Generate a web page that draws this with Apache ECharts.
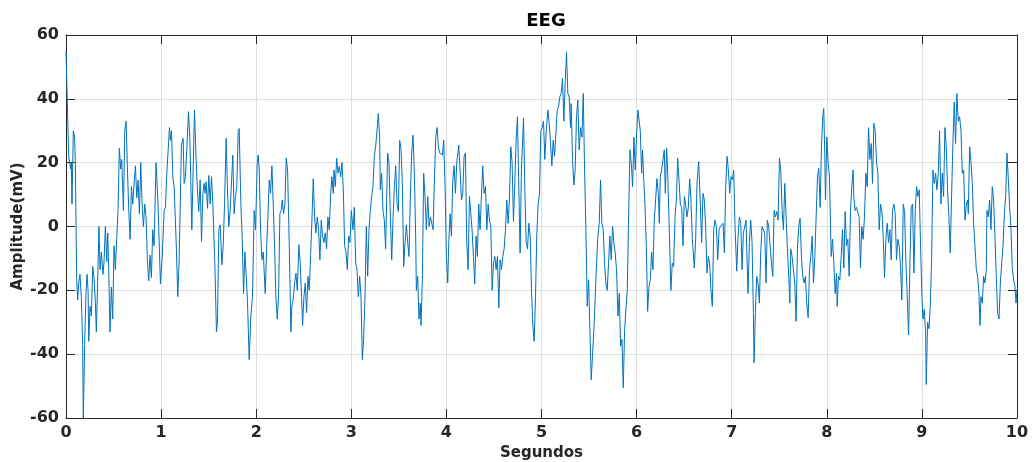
<!DOCTYPE html>
<html><head><meta charset="utf-8">
<script src="https://cdn.jsdelivr.net/npm/echarts@6/dist/echarts.min.js"></script>
<style>html,body{margin:0;padding:0;background:#fff}#c{width:1032px;height:462px}</style>
</head><body><div id="c"></div>
<script>
// EEG samples: [seconds, amplitude mV]
const sec0 = [[0.000,55],[0.028,22],[0.049,18],[0.056,20],[0.063,7],[0.077,30],[0.091,28],[0.098,20],[0.112,-16],[0.123,-23],[0.133,-18],[0.147,-15],[0.161,-22],[0.175,-37],[0.182,-60],[0.196,-37],[0.211,-20],[0.221,-15],[0.232,-20],[0.239,-36],[0.253,-25],[0.267,-28],[0.281,-12.5],[0.295,-16],[0.309,-24],[0.319,-33],[0.333,-17],[0.347,0],[0.358,-13.5],[0.372,-8],[0.389,-15],[0.400,-11],[0.414,0],[0.428,-11],[0.439,-2],[0.449,-13.5],[0.463,-33],[0.477,-19],[0.491,-29],[0.505,-6],[0.519,-13.5],[0.533,-4],[0.547,5],[0.561,24.5],[0.575,18],[0.586,21],[0.604,5],[0.618,30],[0.632,33],[0.646,18],[0.660,5],[0.674,-4],[0.688,12.5],[0.702,7],[0.716,13.5],[0.730,19],[0.744,9],[0.758,14.5],[0.772,4],[0.786,20],[0.800,7],[0.814,0],[0.828,7],[0.842,3],[0.856,-11],[0.870,-17],[0.884,-9],[0.898,-16],[0.912,-1],[0.926,-6],[0.947,20],[0.968,7],[0.993,-18]];
const sec1 = [[1.011,-10],[1.032,5],[1.046,6],[1.060,16.7],[1.088,31],[1.098,27],[1.109,30],[1.123,15.6],[1.137,12.5],[1.161,-7],[1.175,-22],[1.189,-11.5],[1.214,25.5],[1.232,27.6],[1.242,13.5],[1.256,15.6],[1.270,24],[1.288,36],[1.302,28],[1.323,-1],[1.351,36.5],[1.368,21],[1.382,11.5],[1.396,4.7],[1.411,14.6],[1.425,-4.7],[1.439,10.4],[1.453,13.5],[1.463,10.4],[1.474,14],[1.488,5.7],[1.502,16],[1.516,7],[1.530,15.6],[1.544,7],[1.565,-11.5],[1.582,-33],[1.593,-30],[1.607,-1],[1.621,0.5],[1.639,-12],[1.653,-6],[1.667,7],[1.684,27.6],[1.698,11.5],[1.712,0],[1.726,5],[1.737,12],[1.754,22.4],[1.768,4],[1.782,9.4],[1.796,12.5],[1.811,30],[1.821,30.7],[1.839,7],[1.853,-4],[1.867,-21],[1.881,-8],[1.895,-15.6],[1.909,-24],[1.926,-41.7],[1.944,-28],[1.961,-22],[1.979,5],[1.993,-1]];
const sec2 = [[2.011,20],[2.021,22.4],[2.032,17.7],[2.046,-1],[2.060,-10.4],[2.074,-8],[2.095,-21],[2.109,-7],[2.123,3],[2.137,14.6],[2.151,10.4],[2.165,19],[2.179,7],[2.193,-6],[2.207,-22],[2.221,-29],[2.235,-22],[2.249,4],[2.263,5],[2.274,8.3],[2.288,4],[2.302,7],[2.316,21.4],[2.330,17.7],[2.347,-5],[2.365,-33],[2.375,-25],[2.389,-23],[2.404,-17.7],[2.418,-14.6],[2.432,-20],[2.449,-5.7],[2.463,-11.5],[2.477,-22],[2.488,-31],[2.502,-22],[2.516,-17.7],[2.530,-27],[2.544,-15.6],[2.558,-20],[2.572,-9],[2.586,2],[2.600,15],[2.614,3],[2.628,-2],[2.642,3],[2.656,-1],[2.670,-10.4],[2.684,2],[2.698,-3],[2.712,-5],[2.726,-2],[2.740,-7],[2.754,3],[2.768,-1],[2.782,9.4],[2.796,15.6],[2.811,10.4],[2.818,17.7],[2.832,12.5],[2.846,21.4],[2.860,16.7],[2.874,18.8],[2.888,15.6],[2.902,20],[2.916,11.5],[2.930,-6],[2.944,-8],[2.958,-13.5],[2.972,-3],[2.986,-5],[3.000,5]];
const sec3 = [[3.018,-1],[3.032,6],[3.046,-11.5],[3.060,-13.5],[3.074,-22],[3.088,-15.6],[3.102,-22],[3.116,-41.7],[3.130,-35],[3.144,-22],[3.158,0],[3.172,-15.6],[3.186,-1],[3.200,5],[3.214,9.4],[3.228,12.5],[3.242,22],[3.256,25],[3.270,30],[3.284,35.4],[3.298,28],[3.305,11.5],[3.319,16.7],[3.333,5],[3.347,2],[3.361,-7],[3.382,23],[3.396,20],[3.411,3],[3.425,-10.4],[3.439,3],[3.453,12.5],[3.467,19],[3.481,7],[3.495,4.7],[3.509,27],[3.523,24],[3.537,13.5],[3.551,-12.5],[3.565,-5],[3.579,0.5],[3.593,-5],[3.607,-9.4],[3.621,9.4],[3.635,23],[3.649,28.6],[3.663,16.7],[3.677,-3],[3.684,-20],[3.698,-15.6],[3.712,-29],[3.726,-24],[3.733,-31],[3.747,-16.7],[3.761,16.7],[3.775,9.4],[3.789,-1],[3.804,9.4],[3.818,0],[3.832,3],[3.860,-1],[3.874,14.6],[3.888,28],[3.902,31],[3.916,25],[3.930,23],[3.958,22.4],[3.972,27],[3.986,12.5],[4.000,-9.4]];
const sec4 = [[4.014,-17.7],[4.025,-5],[4.039,4],[4.053,-3],[4.067,14.6],[4.081,19],[4.095,10.4],[4.109,20],[4.130,25.5],[4.144,17.7],[4.158,8.3],[4.172,10.4],[4.186,22],[4.200,23],[4.214,-5],[4.228,-13.5],[4.242,9.4],[4.256,10],[4.270,-1],[4.284,-9.4],[4.298,-18],[4.312,-3],[4.326,-9.4],[4.340,7],[4.354,-1],[4.368,9.4],[4.382,19],[4.396,10.4],[4.411,12.5],[4.425,-1],[4.439,7],[4.453,2],[4.467,0],[4.481,-20],[4.495,-11.5],[4.509,-9.4],[4.523,-13.5],[4.537,-9.4],[4.551,-25.5],[4.565,-10.4],[4.579,-13.5],[4.593,-9.4],[4.607,-7],[4.621,-1],[4.635,8.3],[4.649,1],[4.663,8.3],[4.677,25],[4.691,20],[4.705,1.6],[4.719,13.5],[4.733,27],[4.747,34.4],[4.761,12.5],[4.775,-8.3],[4.789,17.7],[4.811,34],[4.825,11.5],[4.839,-5],[4.853,-7],[4.867,1],[4.881,-3],[4.895,-20],[4.909,-31],[4.923,-36],[4.937,-22],[4.951,-2],[4.965,7],[4.979,10.4],[4.993,30]];
const sec5 = [[5.007,31],[5.021,33],[5.035,21],[5.050,30],[5.067,36.5],[5.081,32.3],[5.095,26],[5.109,19],[5.123,27],[5.137,22],[5.151,29],[5.165,36.5],[5.179,37.5],[5.193,40.6],[5.207,41.7],[5.221,46.4],[5.235,33],[5.249,44.8],[5.263,54.7],[5.277,41.7],[5.291,40.6],[5.305,31],[5.312,38.5],[5.326,21],[5.340,13],[5.354,17.7],[5.368,34.4],[5.382,39.6],[5.396,24],[5.411,31],[5.425,28],[5.439,41.7],[5.453,17.7],[5.467,-1],[5.481,-25],[5.495,-16.7],[5.509,-32.3],[5.523,-48],[5.537,-48],[5.551,-32.3],[5.565,-22],[5.579,-11.5],[5.593,-3],[5.607,1],[5.621,14.6],[5.635,1],[5.649,-1],[5.663,-11.5],[5.677,-17.7],[5.691,-20],[5.705,-11.5],[5.719,-3],[5.733,-10.4],[5.747,0],[5.761,-5],[5.775,-8.3],[5.789,-13.5],[5.804,-28],[5.818,-21],[5.832,-37.5],[5.846,-35.4],[5.860,-50.5],[5.874,-32.3],[5.888,-26],[5.902,-20],[5.916,3],[5.930,24],[5.944,20],[5.958,12.5],[5.972,28],[5.986,17.7],[6.000,29]];
const sec6 = [[6.014,36.5],[6.025,37],[6.039,30],[6.053,16.7],[6.063,24],[6.074,15.6],[6.088,7],[6.102,-6],[6.116,-26.6],[6.130,-19],[6.144,-16.7],[6.158,-8],[6.172,-13.5],[6.186,2],[6.200,8.3],[6.214,15],[6.228,10.4],[6.239,1],[6.249,15.6],[6.263,17.7],[6.277,20.8],[6.291,24],[6.302,10.4],[6.316,24.5],[6.326,17.7],[6.340,3],[6.361,-20],[6.375,-11.5],[6.389,-12.5],[6.404,3],[6.418,8.3],[6.432,21.4],[6.446,14.6],[6.460,7],[6.474,6],[6.488,-6],[6.502,9.4],[6.516,6.8],[6.530,3],[6.544,6],[6.558,15],[6.572,8.3],[6.586,-4],[6.607,-13],[6.621,-4],[6.635,13.5],[6.653,20.3],[6.670,7],[6.684,-5],[6.698,10.4],[6.712,8.3],[6.726,0],[6.740,-14.6],[6.754,-9.4],[6.768,-11.5],[6.782,-20],[6.796,-25],[6.811,-1],[6.825,2],[6.839,0],[6.853,-10.4],[6.867,-1],[6.881,0],[6.909,1],[6.923,-8.3],[6.937,12.5],[6.951,22],[6.965,17.7],[6.979,10.4],[6.993,15.6],[7.007,14.6],[7.021,17.7],[7.035,0]];
const sec7 = [[7.053,-14],[7.067,-3],[7.081,3],[7.095,1],[7.109,-13.5],[7.123,-2],[7.151,2],[7.158,-7],[7.172,-21],[7.186,-5],[7.200,2],[7.214,-5],[7.228,-27],[7.235,-42.7],[7.249,-27],[7.263,-15.6],[7.277,-17.7],[7.291,-24],[7.305,-8.3],[7.319,0],[7.347,-2],[7.361,-17.7],[7.375,2],[7.389,0],[7.404,0.5],[7.418,-11.5],[7.432,-15.6],[7.446,5],[7.460,3],[7.474,4.7],[7.488,2],[7.502,21.4],[7.516,17.7],[7.530,5],[7.544,-1],[7.558,13.5],[7.572,3],[7.586,-7],[7.600,-15.6],[7.611,-24],[7.621,-7],[7.635,-9.4],[7.649,-13.5],[7.663,-17.7],[7.677,-29.7],[7.691,-7],[7.705,0],[7.719,2.6],[7.733,-9.4],[7.747,-15.6],[7.761,-17.7],[7.775,-15.6],[7.789,-24],[7.804,-28.6],[7.818,-13.5],[7.832,-9.4],[7.846,-3],[7.860,-17.7],[7.874,-9.4],[7.888,3],[7.902,15.6],[7.916,18.2],[7.930,6],[7.944,25],[7.958,34.4],[7.968,37],[7.979,22],[7.986,8.3]];
const sec8 = [[8.000,28],[8.014,20],[8.028,15.6],[8.046,-9.4],[8.060,-4],[8.074,-11.5],[8.088,-21],[8.102,-14.6],[8.109,-25],[8.123,-15.6],[8.137,-16.7],[8.151,-9.4],[8.165,-1],[8.179,-13],[8.193,4.7],[8.207,-6],[8.221,-4],[8.235,-15.6],[8.249,5],[8.263,12.5],[8.277,17.7],[8.284,9.4],[8.298,5],[8.312,6],[8.340,3],[8.354,-13],[8.368,0],[8.382,-4],[8.396,3],[8.411,16.7],[8.425,12.5],[8.439,31],[8.453,21],[8.467,26],[8.481,13.5],[8.495,32.3],[8.509,30],[8.523,20],[8.537,16.7],[8.551,-1],[8.565,7],[8.579,5],[8.593,-3],[8.607,-16],[8.621,-4],[8.635,1],[8.649,-5],[8.663,-1],[8.677,-10.4],[8.691,5],[8.705,7],[8.719,4],[8.733,-10.4],[8.747,-4],[8.761,-6],[8.775,-12.5],[8.789,-23],[8.804,7],[8.818,4.7],[8.832,-11.5],[8.846,-22],[8.860,-34],[8.874,-11.5],[8.888,6],[8.902,7],[8.916,-14.6],[8.930,5],[8.944,12.5],[8.958,9.4],[8.972,11.5],[8.986,-6]];
const sec9 = [[9.000,-22],[9.011,-29],[9.025,-26],[9.039,-33],[9.046,-49.5],[9.060,-30],[9.074,-32],[9.088,-25],[9.102,-10.4],[9.116,17.7],[9.130,13.5],[9.144,16.7],[9.158,11.5],[9.172,16.7],[9.186,30],[9.200,7],[9.214,16.7],[9.228,9.4],[9.242,31],[9.256,25],[9.270,11.5],[9.284,3],[9.298,-8.3],[9.312,9.4],[9.326,26],[9.340,39],[9.354,26],[9.368,41.7],[9.382,33],[9.396,34.4],[9.411,30],[9.425,16.7],[9.439,17.7],[9.453,2],[9.467,7],[9.481,8.3],[9.488,4],[9.502,25],[9.516,20],[9.530,13.5],[9.544,1],[9.558,-6],[9.572,-13.5],[9.586,-15.6],[9.600,-21],[9.611,-31],[9.621,-22],[9.635,-24],[9.649,-15.6],[9.663,-17.7],[9.677,-13.5],[9.684,5],[9.698,3],[9.712,8.3],[9.726,-1],[9.740,12.5],[9.754,8.3],[9.768,-3],[9.782,-15.6],[9.796,-27],[9.811,-29],[9.825,-17.7],[9.839,-11.5],[9.853,-6],[9.867,4],[9.881,9.4],[9.895,23],[9.909,14.6],[9.923,6],[9.937,-1],[9.951,-13.5],[9.965,-16.7],[9.979,-18.8],[9.989,-24],[10.000,-20]];
const xTicks = [0,1,2,3,4,5,6,7,8,9,10];
const yTicks = [-60,-40,-20,0,20,40,60];
const titleText = 'EEG';
const xName = 'Segundos';
const yName = 'Amplitude(mV)';

const signal = [].concat(sec0, sec1, sec2, sec3, sec4, sec5, sec6, sec7, sec8, sec9);
const FONT = 'DejaVu Sans';
const AX = '#262626';
const labelStyle = { color: AX, fontFamily: FONT, fontWeight: 'bold', fontSize: 16 };
function xAxisDef(pos, main) {
  return {
    type: 'value', position: pos, min: xTicks[0], max: xTicks[xTicks.length-1], interval: 1,
    name: main ? xName : '', nameLocation: 'middle', nameGap: 28, nameMoveOverlap: false,
    nameTextStyle: { color: AX, fontFamily: FONT, fontWeight: 'bold', fontSize: 15 },
    axisLine: { show: true, onZero: false, lineStyle: { color: AX, width: 1 } },
    axisTick: { show: true, inside: true, length: 9, lineStyle: { color: AX } },
    axisLabel: main ? Object.assign({ margin: 7 }, labelStyle) : { show: false },
    splitLine: { show: main, lineStyle: { color: '#dfdfdf', width: 1 } }
  };
}
function yAxisDef(pos, main) {
  return {
    type: 'value', position: pos, min: yTicks[0], max: yTicks[yTicks.length-1], interval: 20,
    name: main ? yName : '', nameLocation: 'middle', nameGap: 40, nameMoveOverlap: false,
    nameTextStyle: { color: AX, fontFamily: FONT, fontWeight: 'bold', fontSize: 15 },
    axisLine: { show: true, onZero: false, lineStyle: { color: AX, width: 1 } },
    axisTick: { show: true, inside: true, length: 9, lineStyle: { color: AX } },
    axisLabel: main ? Object.assign({ margin: 7 }, labelStyle) : { show: false },
    splitLine: { show: main, lineStyle: { color: '#dfdfdf', width: 1 } }
  };
}
const chart = echarts.init(document.getElementById('c'), null, { renderer: 'canvas' });
chart.setOption({
  animation: false,
  backgroundColor: '#ffffff',
  title: { text: titleText, left: 541, top: 7, textAlign: 'center',
    textStyle: { color: '#000', fontFamily: FONT, fontWeight: 'bold', fontSize: 18 } },
  grid: { left: 66, right: 15, top: 35, bottom: 44, containLabel: false, outerBoundsMode: 'none' },
  xAxis: [xAxisDef('bottom', true), xAxisDef('top', false)],
  yAxis: [yAxisDef('left', true), yAxisDef('right', false)],
  series: [{
    type: 'line', data: signal, xAxisIndex: 0, yAxisIndex: 0,
    showSymbol: false, symbol: 'none', sampling: null, smooth: false,
    lineStyle: { color: '#0072BD', width: 1 }, clip: true
  }]
});
</script></body></html>
